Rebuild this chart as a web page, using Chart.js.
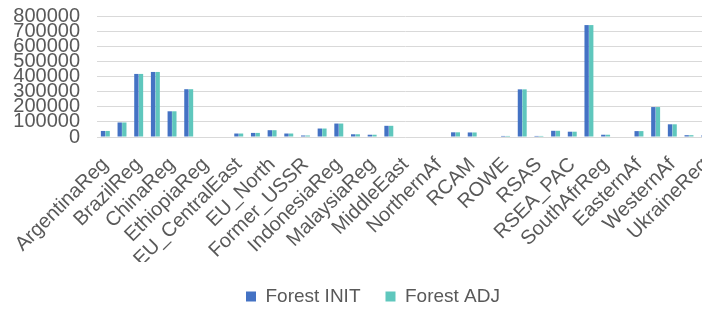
<!DOCTYPE html>
<html>
<head>
<meta charset="utf-8">
<script src="https://cdn.jsdelivr.net/npm/chart.js"></script>
<style>
  html, body { margin: 0; padding: 0; background: #fff; overflow: hidden; }
</style>
</head>
<body>
<canvas id="myChart" width="746" height="309"></canvas>
<script>
// regions (every second label is shown on the axis, like the original)
var regions = [
  "ArgentinaReg", "Australia", "BrazilReg", "Canada", "ChinaReg", "CongoBasin",
  "EthiopiaReg", "EU_Baltic", "EU_CentralEast", "EU_MidWest", "EU_North", "EU_South",
  "Former_USSR", "IndiaReg", "IndonesiaReg", "JapanReg", "MalaysiaReg", "MexicoReg",
  "MiddleEast", "NigeriaReg", "NorthernAf", "Pacific_Islands", "RCAM", "RCEU",
  "ROWE", "RSAM", "RSAS", "RSEA_OPA", "RSEA_PAC", "RussiaReg",
  "SouthAfrReg", "SouthKorea", "EasternAf", "SouthernAf", "WesternAf", "TurkeyReg",
  "UkraineReg"
];

var forestInit = [
  40000, 96000, 417000, 430000, 170000, 316000,
  0, 0, 23000, 27000, 45000, 23000,
  10000, 56000, 89000, 18000, 15000, 74000,
  0, 0, 0, 31000, 30000, 0,
  7000, 315000, 7000, 41000, 35000, 740000,
  15000, 0, 39000, 198000, 84000, 12000,
  10000
];

var forestAdj = [
  40000, 96000, 417000, 430000, 170000, 316000,
  0, 0, 23000, 27000, 45000, 23000,
  10000, 56000, 89000, 18000, 15000, 74000,
  0, 0, 0, 31000, 30000, 0,
  7000, 315000, 7000, 41000, 35000, 740000,
  15000, 0, 39000, 198000, 84000, 12000,
  10000
];

var yTicks = [0, 100000, 200000, 300000, 400000, 500000, 600000, 700000, 800000];

var textColor = "#595959";
var gridColor = "#d9d9d9";
var fontName = "'Liberation Sans', Arial, sans-serif";

var ctx = document.getElementById("myChart").getContext("2d");

var myChart = new Chart(ctx, {
  type: "bar",
  data: {
    labels: regions,
    datasets: [
      {
        label: "Forest INIT",
        data: forestInit,
        backgroundColor: "#4472c4",
        categoryPercentage: 0.55,
        barPercentage: 0.95,
      },
      {
        label: "Forest ADJ",
        data: forestAdj,
        backgroundColor: "#5fc7bd",
        categoryPercentage: 0.55,
        barPercentage: 0.95,
      },
    ],
  },
  options: {
    responsive: false,
    animation: false,
    devicePixelRatio: 1,
    layout: {
      padding: { top: 16, right: 0, bottom: -7, left: 0 },
    },
    plugins: {
      legend: {
        position: "bottom",
        labels: {
          boxWidth: 10,
          boxHeight: 10,
          padding: 25,
          color: textColor,
          font: { family: fontName, size: 19 },
        },
      },
      tooltip: { enabled: false },
    },
    scales: {
      x: {
        grid: { display: false },
        border: { display: false },
        ticks: {
          autoSkip: false,
          maxRotation: 45,
          minRotation: 45,
          padding: 8,
          color: textColor,
          font: { family: fontName, size: 20 },
          callback: function (val, index) {
            return index % 2 === 0 ? this.getLabelForValue(val) : "";
          },
        },
        afterFit: function (scale) {
          scale.height = 125;
        },
      },
      y: {
        min: 0,
        max: 800000,
        afterBuildTicks: function (scale) {
          scale.ticks = yTicks.map(function (v) { return { value: v }; });
        },
        grid: { color: gridColor, lineWidth: 1, drawTicks: false },
        border: { display: false },
        ticks: {
          autoSkip: false,
          padding: 17,
          color: textColor,
          font: { family: fontName, size: 20 },
          callback: function (v) { return String(v); },
        },
        afterFit: function (scale) {
          scale.width = 97;
          scale.paddingTop = 0;
          scale.paddingBottom = 0;
        },
      },
      // empty space on the right, the original plot runs past the window edge
      yRight: {
        position: "right",
        display: true,
        grid: { display: false },
        border: { display: false },
        ticks: { display: false },
        afterFit: function (scale) {
          scale.width = 32;
          scale.paddingTop = 0;
          scale.paddingBottom = 0;
        },
      },
    },
  },
});
</script>
</body>
</html>
